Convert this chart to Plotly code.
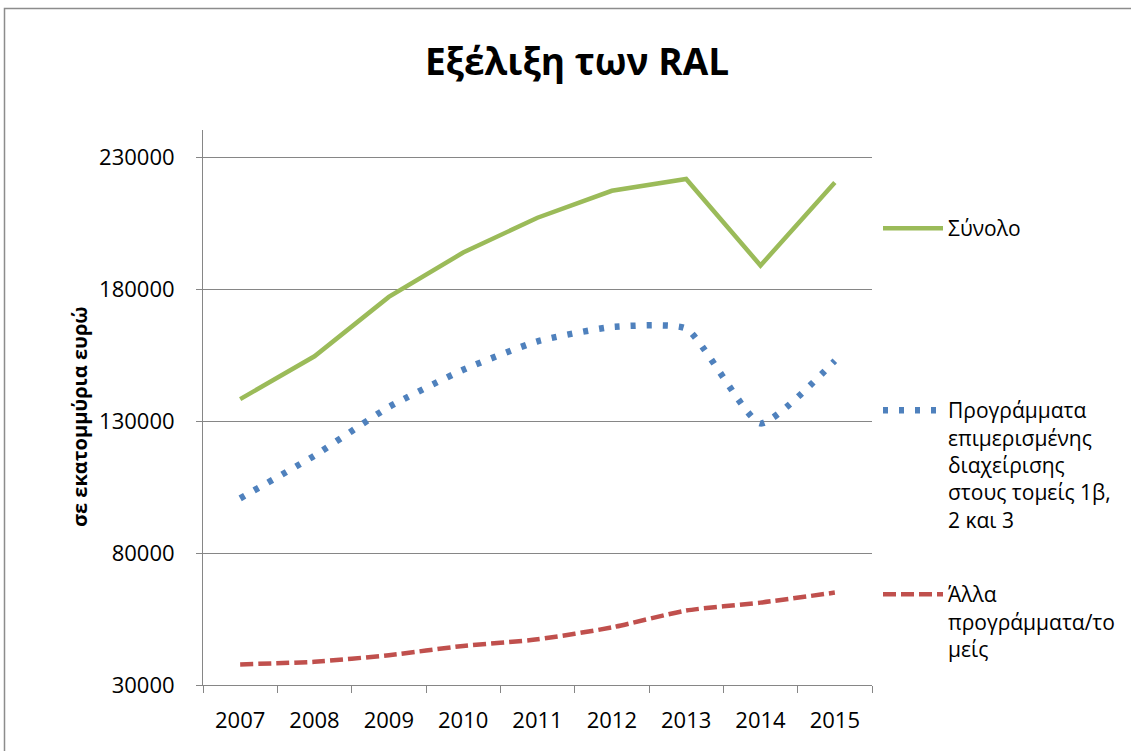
import plotly.graph_objects as go

years = ["2007", "2008", "2009", "2010", "2011", "2012", "2013", "2014", "2015"]
total = [138300, 154500, 177000, 193800, 207000, 217200, 221700, 188900, 220300]
shared = [100700, 116900, 135300, 149400, 160200, 165600, 165000, 129100, 152800]
other = [37800, 38800, 41300, 44800, 47300, 51800, 58200, 61200, 65000]

name_total = "Σύνολο"
name_shared = "Προγράμματα<br>επιμερισμένης<br>διαχείρισης<br>στους τομείς 1β,<br>2 και 3"
name_other = "Άλλα<br>προγράμματα/το<br>μείς"

y_ticks = [30000, 80000, 130000, 180000, 230000]

W, H = 1131, 751
L, R, T, B = 203, 872, 130, 685

def px_x(p):
    return (p - L) / (R - L)

def px_y(p):
    return (B - p) / (B - T)

FONT = "Open Sans"

fig = go.Figure()
fig.add_trace(go.Scatter(x=years, y=total, mode="lines", name=name_total,
                         line=dict(color="#9BBB59", width=4.5), legend="legend"))
fig.add_trace(go.Scatter(x=years, y=shared, mode="lines", name=name_shared,
                         line=dict(color="#4F81BD", width=6.5, dash="5px,11px", shape="spline", smoothing=0.5),
                         legend="legend2"))
fig.add_trace(go.Scatter(x=years, y=other, mode="lines", name=name_other,
                         line=dict(color="#C0504D", width=4.5, dash="13px,5px", shape="spline", smoothing=0.6),
                         legend="legend3"))

leg_common = dict(xref="paper", yref="paper", x=px_x(878), xanchor="left",
                  valign="top", itemwidth=60, bgcolor="rgba(0,0,0,0)",
                  font=dict(family=FONT, size=21, color="#000000"), itemclick=False)

fig.update_layout(
    width=W, height=H,
    margin=dict(l=L, r=W - R, t=T, b=H - B, autoexpand=False),
    paper_bgcolor="white", plot_bgcolor="white",
    showlegend=True,
    title=dict(text="<b>Εξέλιξη των RAL</b>", xref="container", yref="container",
               x=577 / W, y=1 - 62 / H, xanchor="center", yanchor="middle",
               font=dict(family=FONT, size=37, color="#000000")),
    legend=dict(**leg_common, y=px_y(208), yanchor="top"),
    legend2=dict(**leg_common, y=px_y(390), yanchor="top"),
    legend3=dict(**leg_common, y=px_y(574), yanchor="top"),
    xaxis=dict(type="category", showgrid=False, showline=True, linecolor="#868686", linewidth=1,
               ticks="outside", tickson="boundaries", ticklen=7, tickcolor="#868686",
               tickfont=dict(family=FONT, size=22, color="#000000"), ticklabelstandoff=16,
               range=[-0.5, 8.5]),
    yaxis=dict(range=[30000, 230000 + 27 * 50000 / 132], tickvals=y_ticks,
               ticktext=[str(v) for v in y_ticks],
               showgrid=True, gridcolor="#868686", gridwidth=1,
               showline=True, linecolor="#868686", linewidth=1,
               ticks="outside", ticklen=6, tickcolor="#868686", zeroline=False,
               tickfont=dict(family=FONT, size=22, color="#000000"), ticklabelstandoff=17),
    annotations=[dict(text="<b>σε εκατομμύρια ευρώ</b>", textangle=-90,
                      xref="paper", yref="paper", x=px_x(79), y=px_y(417),
                      xanchor="center", yanchor="middle", showarrow=False,
                      font=dict(family=FONT, size=20, color="#000000"))],
    shapes=[dict(type="rect", xref="paper", yref="paper",
                 x0=px_x(4.5), x1=px_x(1140), y0=px_y(760), y1=px_y(8.5),
                 line=dict(color="#8C8C8C", width=1.5), fillcolor="rgba(0,0,0,0)", layer="below")],
)

fig.write_html("out.html", config={"displayModeBar": False},
               post_script="document.body.style.margin='0px';document.body.style.overflow='hidden';")
